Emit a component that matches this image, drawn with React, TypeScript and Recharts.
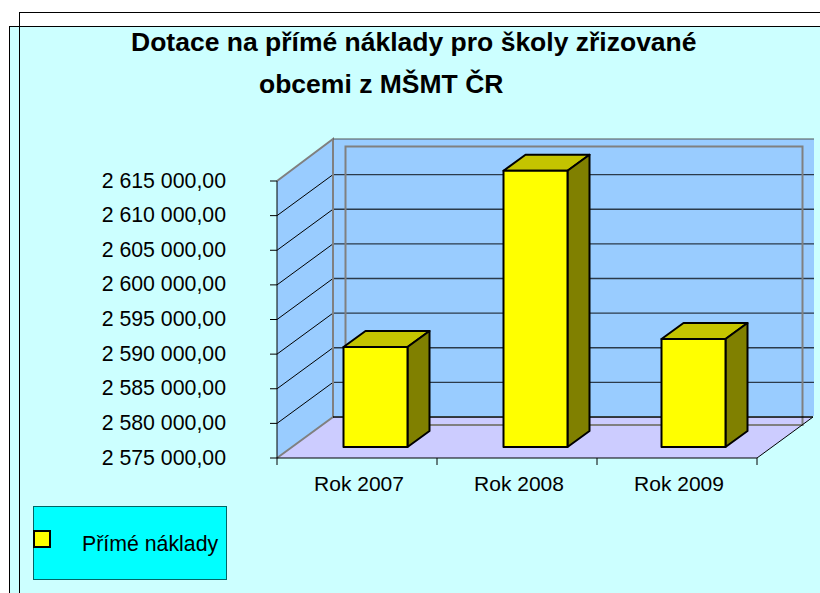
import React from 'react';
import { BarChart, Bar, XAxis, YAxis, CartesianGrid, Legend, Customized } from 'recharts';

const categories = ['Rok 2007', 'Rok 2008', 'Rok 2009'];
const directCosts = [2589450, 2614900, 2590600];
const yTicks = [2575000, 2580000, 2585000, 2590000, 2595000, 2600000, 2605000, 2610000, 2615000];
const titleLines = ['Dotace na přímé náklady pro školy zřizované', 'obcemi z MŠMT ČR'];
const seriesName = 'Přímé náklady';

const data = categories.map((name, i) => ({ name, value: directCosts[i] }));

const FONT = '"Liberation Sans", Arial, sans-serif';
// front plane of the fake 3D box
const LEFT = 277;
const RIGHT = 757;
const TOP = 181;
const BOTTOM = 458;
const DEPTH_X = 56;
const DEPTH_Y = 41;
const BAND = (RIGHT - LEFT) / categories.length;

const formatValue = (val: number) => {
  const millions = Math.floor(val / 1000000);
  const thousands = Math.floor(val / 1000) % 1000;
  return `${millions} ${thousands} 000,00`;
};

// sits under the chart, the grid has to draw on top of it
const Walls = () => (
  <svg width={820} height={593} style={{ position: 'absolute', left: 0, top: 0 }}>
    <polygon points={`${LEFT},${TOP} ${LEFT + DEPTH_X},${TOP - DEPTH_Y - 1} ${LEFT + DEPTH_X},${BOTTOM - DEPTH_Y} ${LEFT},${BOTTOM}`} fill="#99ccff" />
    <rect x={LEFT + DEPTH_X} y={TOP - DEPTH_Y - 1} width={RIGHT - LEFT + 1} height={BOTTOM - TOP} fill="#99ccff" />
    <polygon points={`${LEFT},${BOTTOM} ${RIGHT},${BOTTOM} ${RIGHT + DEPTH_X},${BOTTOM - DEPTH_Y} ${LEFT + DEPTH_X},${BOTTOM - DEPTH_Y}`} fill="#ccccff" />
  </svg>
);

const WallFrame = () => (
  <g fill="none" stroke="#808080" strokeWidth={2}>
    <rect x={345.5} y={146.5} width={457} height={278.5} />
    <path d={`M${LEFT},${TOP} L${LEFT + DEPTH_X},${TOP - DEPTH_Y - 1} L${LEFT + DEPTH_X},${BOTTOM - DEPTH_Y} L${LEFT},${BOTTOM}`} />
    <path d={`M${LEFT + DEPTH_X},${TOP - DEPTH_Y - 1} H${RIGHT + DEPTH_X + 1}`} stroke="#555" strokeWidth={1} />
    <path d={`M${RIGHT},${BOTTOM} L${RIGHT + DEPTH_X},${BOTTOM - DEPTH_Y}`} stroke="#000" strokeWidth={1} />
    <path d={`M${LEFT + DEPTH_X},${BOTTOM - DEPTH_Y} H${RIGHT + DEPTH_X}`} stroke="#000" strokeWidth={1.5} />
  </g>
);

const wallGridLine = (props: any) => {
  const { y1, key } = props;
  if (y1 >= BOTTOM - 0.5 || y1 <= TOP + 0.5) return <g key={key} />;
  return (
    <g key={key} fill="none" strokeWidth={1}>
      <path d={`M${LEFT},${y1} L${LEFT + DEPTH_X},${y1 - DEPTH_Y}`} stroke="#000" />
      <path d={`M${LEFT + DEPTH_X},${y1 - DEPTH_Y} H${RIGHT + DEPTH_X + 1}`} stroke="#2b3a4a" strokeWidth={1.3} />
    </g>
  );
};

const Bar3D = (props: any) => {
  const { x, y, width, height, fill, index } = props;
  const fx = x + 18.5 - (index === 2 ? 2 : 0);
  const fy = y - 11;
  const dx = 22;
  const dy = 16;
  return (
    <g stroke="#000" strokeWidth={2} strokeLinejoin="round">
      <polygon points={`${fx},${fy} ${fx + dx},${fy - dy} ${fx + width + dx},${fy - dy} ${fx + width},${fy}`} fill="#c4c400" />
      <polygon points={`${fx + width},${fy} ${fx + width + dx},${fy - dy} ${fx + width + dx},${fy + height - dy} ${fx + width},${fy + height}`} fill="#808000" />
      <rect x={fx} y={fy} width={width} height={height} fill={fill} />
    </g>
  );
};

const CategoryTick = (props: any) => {
  const { x, payload, index } = props;
  return (
    <g>
      <line x1={x - BAND / 2} x2={x - BAND / 2} y1={BOTTOM} y2={BOTTOM + 7} stroke="#000" />
      {index === categories.length - 1 && (
        <line x1={x + BAND / 2} x2={x + BAND / 2} y1={BOTTOM} y2={BOTTOM + 7} stroke="#000" />
      )}
      <text x={x + 2} y={BOTTOM + 33} textAnchor="middle" fontSize={21} fontFamily={FONT} fill="#000">
        {payload.value}
      </text>
    </g>
  );
};

const LegendBox = () => (
  <div style={{ position: 'relative', width: 192, height: 72, background: '#00ffff', border: '1px solid #006666', fontFamily: FONT, fontSize: 21.3, color: '#000' }}>
    <div style={{ position: 'absolute', left: -1, top: 23, width: 14, height: 14, background: '#ffff00', border: '2px solid #000' }} />
    <div style={{ position: 'absolute', left: 48, top: 25, lineHeight: '24px', whiteSpace: 'nowrap' }}>{seriesName}</div>
  </div>
);

export default function App() {
  return (
    <div style={{ position: 'absolute', left: 0, top: 0, width: 820, height: 593, overflow: 'hidden', background: '#fff' }}>
      <div style={{ position: 'absolute', left: 9, top: 26, width: 811, height: 567, background: '#ccffff', borderLeft: '1px solid #000', borderTop: '1px solid #000', boxSizing: 'border-box' }} />
      <div style={{ position: 'absolute', left: 19, top: 12, width: 801, height: 581, borderLeft: '1px solid #000', borderTop: '1px solid #000', boxSizing: 'border-box' }} />
      {titleLines.map((line, i) => (
        <div
          key={line}
          style={{ position: 'absolute', left: i === 0 ? 131 : 259, top: i === 0 ? 27 : 69, fontFamily: FONT, fontWeight: 700, fontSize: 26.5, lineHeight: '30px', whiteSpace: 'nowrap', color: '#000' }}
        >
          {line}
        </div>
      ))}
      <Walls />
      <div style={{ position: 'absolute', left: 0, top: 0 }}>
        <BarChart
          width={820}
          height={593}
          data={data}
          margin={{ top: TOP, right: 820 - RIGHT, bottom: 95, left: 0 }}
          barSize={64}
        >
          <CartesianGrid vertical={false} horizontal={wallGridLine} />
          <Customized component={WallFrame} />
          <XAxis
            dataKey="name"
            height={40}
            stroke="#000"
            tickLine={false}
            interval={0}
            tick={CategoryTick}
          />
          <YAxis
            type="number"
            width={LEFT}
            domain={[yTicks[0], yTicks[yTicks.length - 1]]}
            ticks={yTicks}
            interval={0}
            stroke="#000"
            tickSize={7}
            tickMargin={44}
            tickFormatter={formatValue}
            tick={{ fill: '#000', fontSize: 21.3, fontFamily: FONT, dy: -1 }}
          />
          <Legend
            layout="horizontal"
            verticalAlign="middle"
            content={LegendBox}
            wrapperStyle={{ left: 33, top: 506, width: 194, height: 74 }}
          />
          <Bar dataKey="value" name={seriesName} fill="#ffff00" shape={Bar3D} isAnimationActive={false} />
        </BarChart>
      </div>
    </div>
  );
}
